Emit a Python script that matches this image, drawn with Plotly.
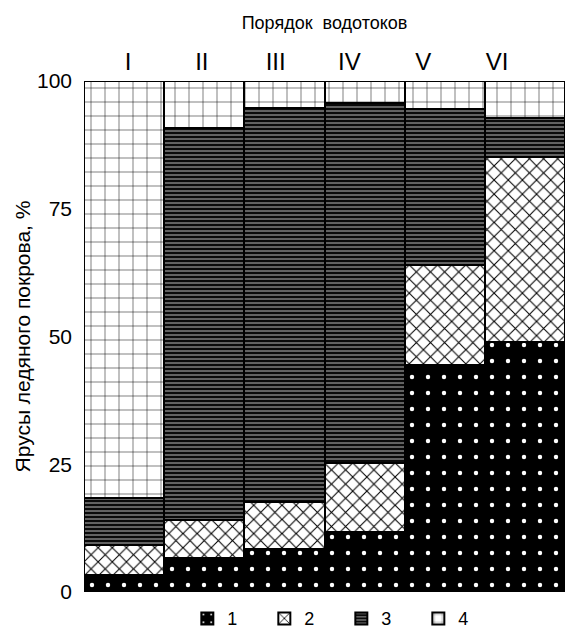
import plotly.graph_objects as go

orders = ["I", "II", "III", "IV", "V", "VI"]
tier1 = [3.3, 6.7, 8.4, 11.7, 44.4, 49.0]
tier2 = [5.9, 7.4, 9.2, 13.5, 19.6, 36.1]
tier3 = [9.2, 76.7, 77.1, 70.5, 30.5, 7.7]
tier4 = [81.6, 9.2, 5.3, 4.3, 5.5, 7.2]
legend_names = ["1", "2", "3", "4"]
y_ticks = [0, 25, 50, 75, 100]

FONT = "Liberation Sans, Arial, sans-serif"

styles = [
    dict(color="black", pattern=dict(shape=".", fgcolor="white", bgcolor="black", size=16, solidity=0.06, fillmode="replace")),
    dict(color="white", pattern=dict(shape="x", fgcolor="black", bgcolor="white", size=10, solidity=0.2, fillmode="replace")),
    dict(color="black", pattern=dict(shape="-", fgcolor="white", bgcolor="#0a0a0a", size=4, solidity=0.18, fillmode="replace")),
    dict(color="white", pattern=dict(shape="+", fgcolor="black", bgcolor="white", size=14, solidity=0.07, fillmode="replace")),
]

fig = go.Figure()
for name, vals, st in zip(legend_names, [tier1, tier2, tier3, tier4], styles):
    fig.add_trace(go.Bar(
        x=orders, y=vals, name=name,
        marker=dict(color=st["color"], pattern=st["pattern"],
                    line=dict(color="black", width=2.5)),
        hoverinfo="skip",
    ))

# invisible trace on the top axis carrying the order labels
fig.add_trace(go.Scatter(x=list(range(len(orders))), y=[None] * len(orders),
                         xaxis="x2", showlegend=False, hoverinfo="skip",
                         mode="markers", marker=dict(opacity=0)))

fig.update_layout(
    width=565, height=635,
    margin=dict(l=84, r=0, t=81, b=43, autoexpand=False),
    paper_bgcolor="white", plot_bgcolor="white",
    barmode="stack", bargap=0,
    font=dict(family=FONT, color="black"),
    xaxis=dict(showticklabels=False, ticks="", showgrid=False, zeroline=False,
               showline=False, automargin=False),
    xaxis2=dict(overlaying="x", side="top", anchor="y", automargin=False,
                range=[-0.596, 5.92], tickmode="array",
                tickvals=list(range(len(orders))), ticktext=orders,
                tickfont=dict(size=24, family="Liberation Sans Narrow, Liberation Sans, Arial"),
                ticklabelstandoff=5,
                ticks="", showgrid=False, zeroline=False, showline=False,
                title=dict(text="Порядок  водотоков", font=dict(size=18), standoff=13)),
    yaxis=dict(range=[0, 100], tickvals=y_ticks, ticks="", showgrid=False,
               zeroline=False, showline=False, tickfont=dict(size=21),
               ticklabelstandoff=11, automargin=False,
               title=dict(text="Ярусы ледяного покрова, %", font=dict(size=21), standoff=0)),
    legend=dict(orientation="h", x=0.535, xanchor="center", y=-0.016, yanchor="top",
                traceorder="normal", font=dict(size=18), entrywidth=32,
                itemsizing="constant"),
    showlegend=True,
)

fig.write_html(
    "out.html",
    config={"displayModeBar": False},
    post_script="document.body.style.margin='0px';document.body.style.overflow='hidden';",
)
